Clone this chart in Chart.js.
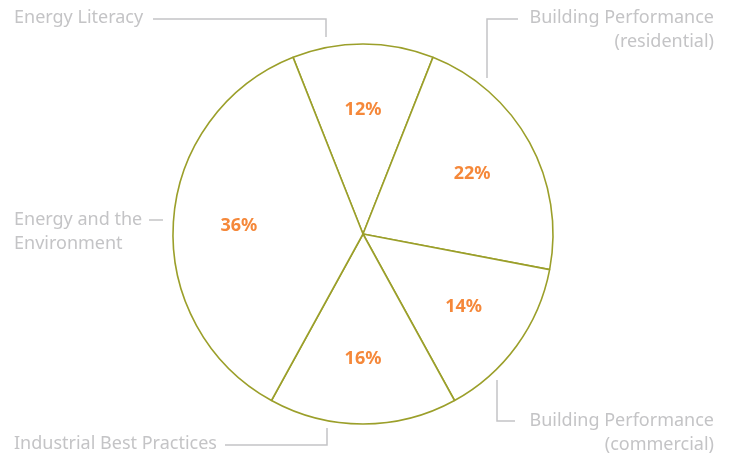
<!DOCTYPE html>
<html>
<head>
<meta charset="utf-8">
<script src="https://cdn.jsdelivr.net/npm/chart.js@4/dist/chart.umd.min.js"></script>
<style>
    html, body { margin: 0; padding: 0; background: #ffffff; }
    #wrap { width: 734px; height: 456px; }
</style>
</head>
<body>
<div id="wrap"><canvas id="pie"></canvas></div>
<script>
const categories = [
    "Energy Literacy",
    "Building Performance (residential)",
    "Building Performance (commercial)",
    "Industrial Best Practices",
    "Energy and the Environment"
];
const shares = [12, 22, 14, 16, 36];

const olive = "#9b9f2a";
const grey = "#c4c4c6";
const orange = "#f5883a";

// outside labels with their leader lines (page layout only)
const outside = [
    {lines: ["Energy Literacy"], x: 14, y: 18, align: "left", leader: [[153, 19], [326, 19], [326, 37]]},
    {lines: ["Building Performance", "(residential)"], x: 714, y: 18, align: "right", leader: [[518, 19], [487, 19], [487, 78]]},
    {lines: ["Energy and the", "Environment"], x: 14, y: 220, align: "left", leader: [[149, 220], [163, 220]]},
    {lines: ["Industrial Best Practices"], x: 14, y: 444, align: "left", leader: [[225, 445], [327, 445], [327, 428]]},
    {lines: ["Building Performance", "(commercial)"], x: 714, y: 421, align: "right", leader: [[497, 380], [497, 421], [515, 421]]}
];

const labelPlugin = {
    id: "labelPlugin",
    afterDatasetsDraw(chart){
        const ctx = chart.ctx;
        const meta = chart.getDatasetMeta(0);
        ctx.save();
        // percentages inside slices
        ctx.fillStyle = orange;
        ctx.font = "bold 18px 'Noto Sans', sans-serif";
        ctx.textAlign = "center";
        ctx.textBaseline = "middle";
        meta.data.forEach((arc, i) => {
            const mid = (arc.startAngle + arc.endAngle) / 2;
            const r = arc.outerRadius * 0.655;
            ctx.fillText(shares[i] + "%", arc.x + Math.cos(mid) * r, arc.y + Math.sin(mid) * r);
        });
        // category labels
        ctx.font = "18px 'Noto Sans', sans-serif";
        ctx.fillStyle = grey;
        ctx.strokeStyle = grey;
        ctx.lineWidth = 1.5;
        outside.forEach(o => {
            ctx.textAlign = o.align;
            o.lines.forEach((t, k) => ctx.fillText(t, o.x, o.y + k * 24));
            ctx.beginPath();
            o.leader.forEach((pt, k) => k ? ctx.lineTo(pt[0], pt[1]) : ctx.moveTo(pt[0], pt[1]));
            ctx.stroke();
        });
        ctx.restore();
    }
};

new Chart(document.getElementById("pie"), {
    type: "pie",
    data: {
        labels: categories,
        datasets: [{
            data: shares,
            backgroundColor: "#ffffff",
            borderColor: olive,
            borderWidth: 1.6,
            borderAlign: "center"
        }]
    },
    options: {
        responsive: true,
        maintainAspectRatio: false,
        animation: false,
        rotation: -21.6,
        radius: 190,
        layout: {padding: {left: 0, right: 8, top: 12, bottom: 0}},
        plugins: {
            legend: {display: false},
            tooltip: {enabled: false}
        }
    },
    plugins: [labelPlugin]
});
</script>
</body>
</html>
